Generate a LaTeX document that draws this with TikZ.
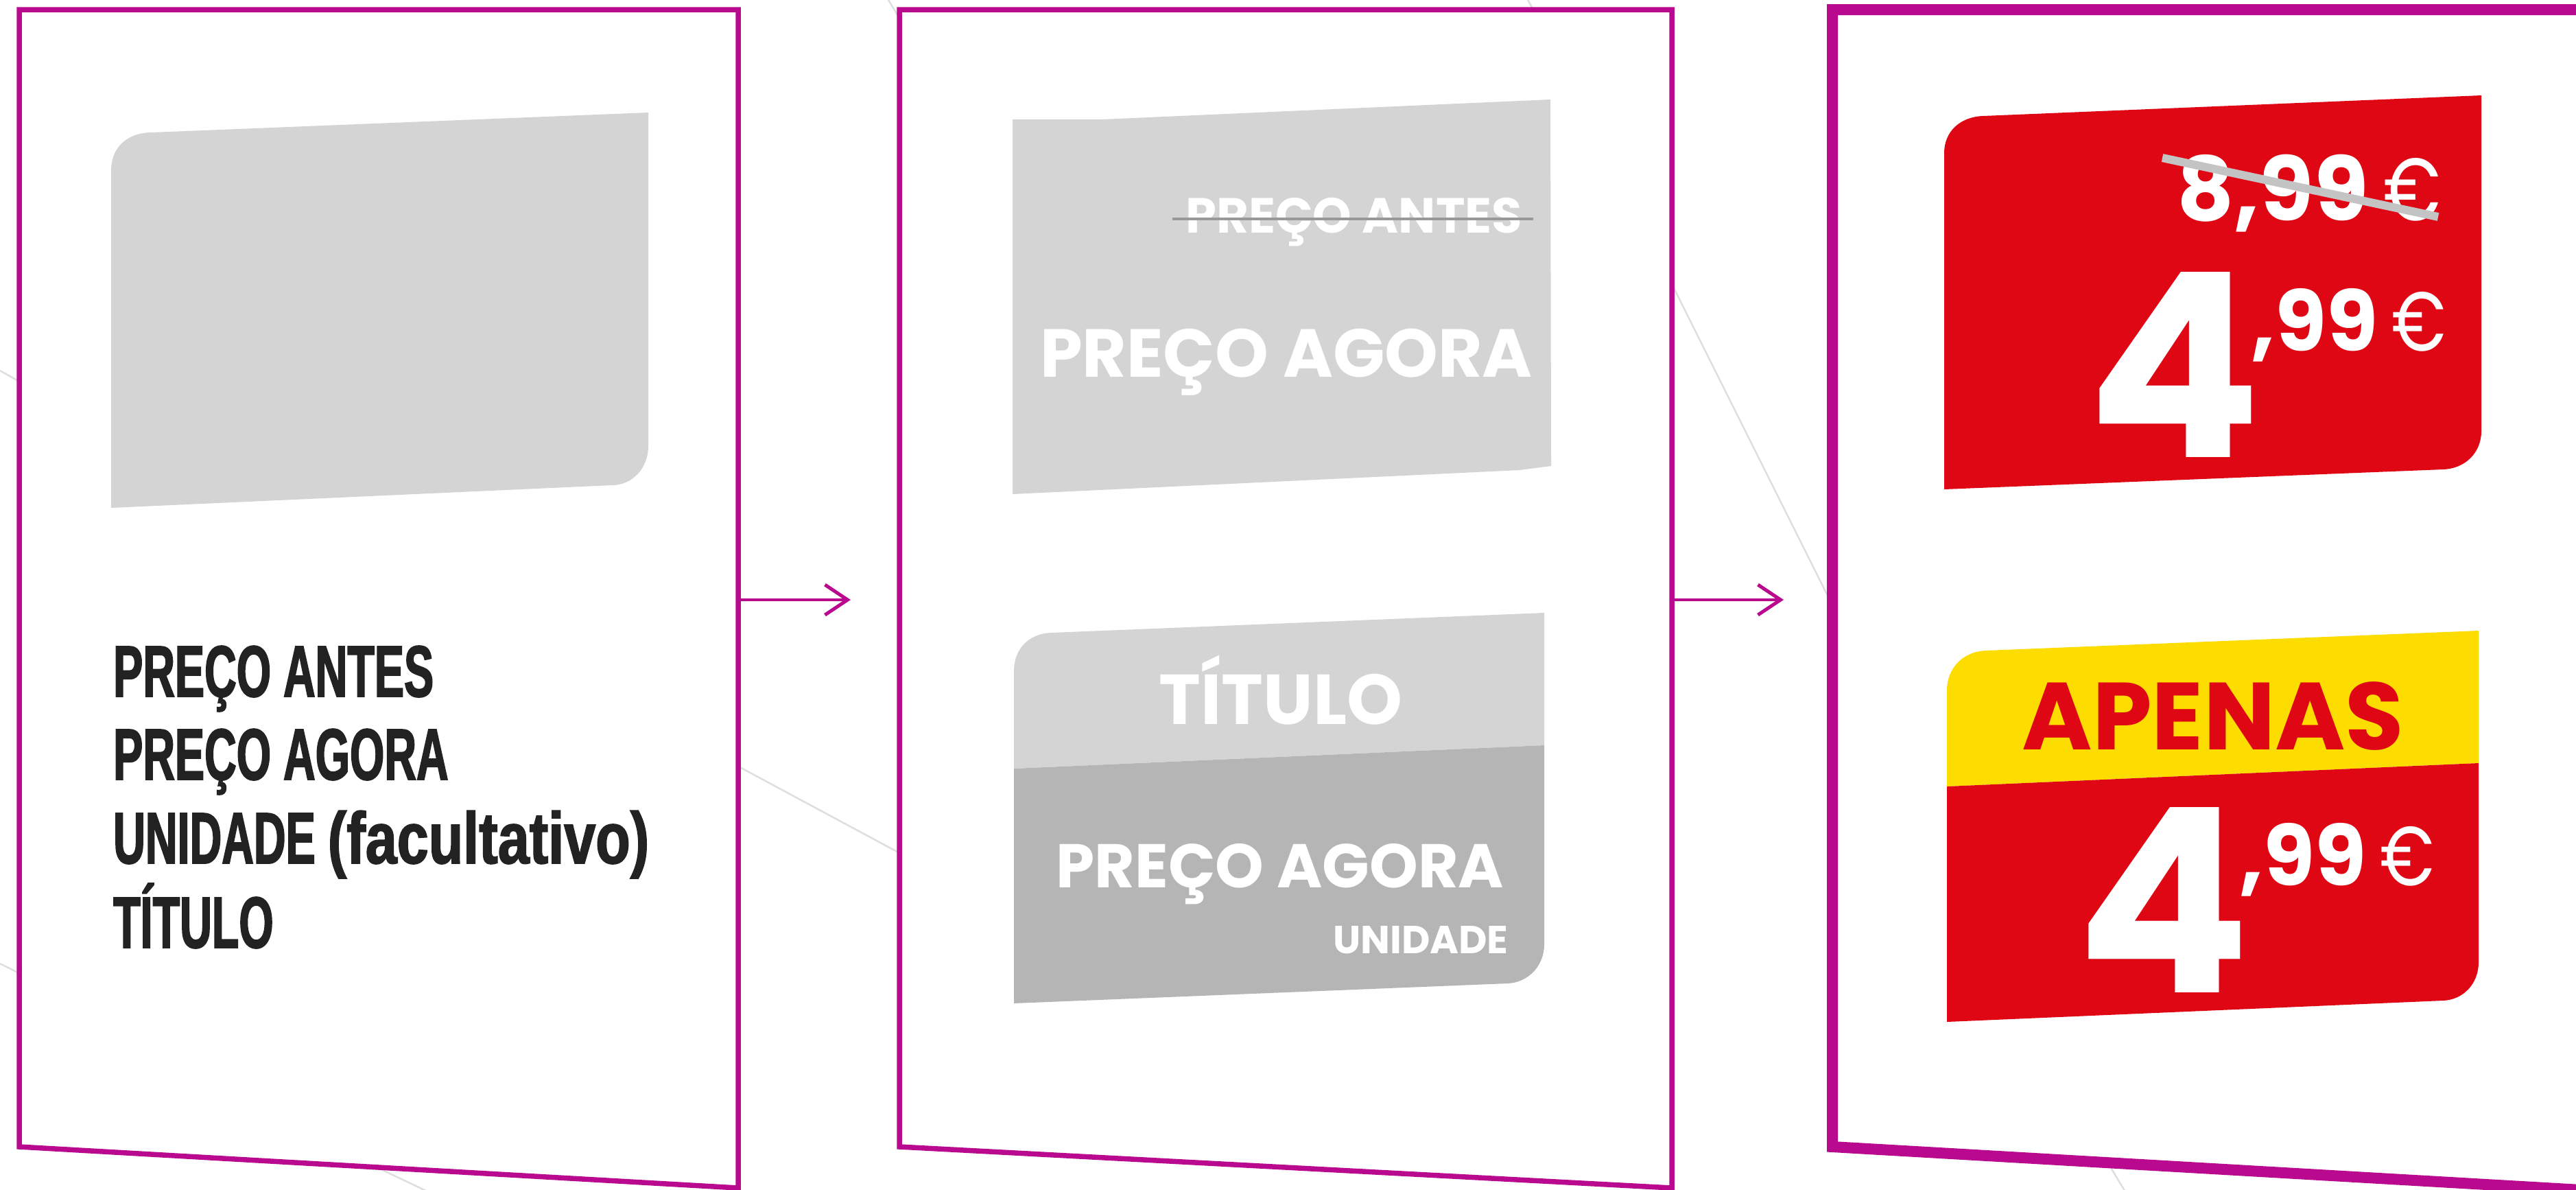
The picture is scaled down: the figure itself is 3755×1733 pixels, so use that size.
\documentclass[tikz,border=0pt]{standalone}
\usepackage{fontspec}
\usepackage{graphicx}
\usetikzlibrary{arrows.meta,positioning}
\setmainfont{Liberation Sans}
\newfontfamily\condfont{Liberation Sans}[FakeStretch=0.61,FakeBold=1.6]
\newfontfamily\condlow{Liberation Sans}[FakeStretch=0.78,FakeBold=1.6]
\newfontfamily\geofont{Poppins}
\newcommand{\euro}{{\mdseries\scalebox{0.8}[1]{€}}}

\definecolor{framemag}{HTML}{B90A8F}
\definecolor{ink}{HTML}{222222}
\definecolor{boxlight}{HTML}{D4D4D4}
\definecolor{boxdark}{HTML}{B5B5B5}
\definecolor{pricered}{HTML}{E00715}
\definecolor{tagyellow}{HTML}{FDDC00}
\definecolor{strikegray}{HTML}{C4C4C4}
\definecolor{linegray}{HTML}{DEDEDE}

\tikzset{
  panel/.style={draw=framemag, fill=white, line width=7.5pt, line join=miter},
  bgline/.style={draw=linegray, line width=2.5pt},
  flow/.style={draw=framemag, line width=4pt,
    -{Straight Barb[length=33pt,width=44pt,line width=5pt]}},
  cond/.style={inner sep=0pt, anchor=base west, text=ink,
    font=\condfont\bfseries\fontsize{106}{122}\selectfont},
  geo/.style={inner sep=0pt, text=white,
    font=\geofont\bfseries\fontsize{#1}{#1}\selectfont},
  strike/.style={draw=#1, line width=4pt},
}

\begin{document}
\begin{tikzpicture}[x=1pt,y=-1pt]
% Canvas
\useasboundingbox (0,0) rectangle (3755,1733);
\clip (0,0) rectangle (3755,1733);

% Background lines
\draw[bgline] (0,540) -- (60,574);
\draw[bgline] (0,1404) -- (60,1434);
\draw[bgline] (1060,1108) -- (1330,1253);
\draw[bgline] (520,1687) -- (625,1737);
\draw[bgline] (1295,0) -- (1312,28);
\draw[bgline] (2227,0) -- (2235,14);
\draw[bgline] (2420,380) -- (2690,920);
\draw[bgline] (3070,1690) -- (3100,1740);

% Panel 1: fields
\draw[panel] (28,14) -- (1076,14) -- (1076,1731) -- (28,1671) -- cycle;
\fill[boxlight] (162,740) -- (162,249) .. controls (162,213) and (187,193) .. (222,193)
  -- (945,164) -- (945,650) .. controls (945,682) and (922,707) .. (892,707) -- cycle;
\foreach \y/\txt in {1015/PREÇO ANTES, 1136/PREÇO AGORA,
  1258/UNIDADE {\condlow(facultativo)}, 1381/TÍTULO}
  \node[cond] (field\y) at (165,\y) {\txt};

% Panel 2: grey layouts
\draw[panel] (1311,14) -- (2437,14) -- (2437,1731) -- (1311,1671) -- cycle;
\fill[boxlight] (1476,720) -- (1476,174) -- (1607,174) -- (2260,145) -- (2261,679)
  -- (2215,685) -- cycle;
\fill[boxlight] (1478,1120) -- (1478,978) .. controls (1478,945) and (1500,923) .. (1533,922)
  -- (2251,893) -- (2251,1086) -- cycle;
\fill[boxdark] (1478,1120) -- (2251,1086) -- (2251,1376) .. controls (2251,1408) and (2227,1432) .. (2197,1433)
  -- (1478,1462) -- cycle;
\node[geo=72, anchor=base east] (antes) at (2219,339) {PREÇO ANTES};
\draw[strike=black!40] ([shift={(-19pt,20pt)}]antes.base west) -- ([shift={(16pt,20pt)}]antes.base east);
\node[geo=99, anchor=base] (agora) at (1875,549) {PREÇO AGORA};
\node[geo=103, anchor=base] (titulo) at (1867,1055) {TÍTULO};
\node[geo=90, anchor=base] (agora2) at (1866,1293) {PREÇO AGORA};
\node[geo=57, anchor=base east] (unidade) at (2199,1389) {UNIDADE};

% Panel 3: price tags
\draw[panel, line width=16pt] (2671,14) -- (3780,14) -- (3780,1735) -- (2671,1671) -- cycle;
\fill[pricered] (2834,713) -- (2834,223) .. controls (2834,191) and (2858,170) .. (2891,169)
  -- (3617,139) -- (3617,628) .. controls (3617,660) and (3593,683) .. (3561,684) -- cycle;
\fill[tagyellow] (2838,1146) -- (2838,1006) .. controls (2838,973) and (2862,949) .. (2895,948)
  -- (3613,919) -- (3613,1112) -- cycle;
\fill[pricered] (2838,1146) -- (3613,1112) -- (3613,1402) .. controls (3613,1434) and (3590,1457) .. (3561,1458)
  -- (2838,1489) -- cycle;
\node[geo=129, anchor=base east] (old) at (3558,321) {8,99\,\euro};
\draw[strike=strikegray, line width=12pt] (3152,230) -- (3554,316);
\node[geo=375, anchor=base west] (four1) at (3042,666) {4};
\node[geo=122, anchor=base west] (cents1) at (3281,511) {,99\,\euro};
\node[geo=139, anchor=base, text=pricered] (apenas) at (3226,1092) {APENAS};
\node[geo=375, anchor=base west] (four2) at (3026,1446) {4};
\node[geo=122, anchor=base west] (cents2) at (3264,1290) {,99\,\euro};

% Flow
\coordinate (out1) at (1076,874);
\coordinate (in2) at (1240,874);
\coordinate (out2) at (2437,874);
\coordinate (in3) at (2600,874);
\draw[flow] (out1) -- (in2);
\draw[flow] (out2) -- (in3);
\end{tikzpicture}
\end{document}
